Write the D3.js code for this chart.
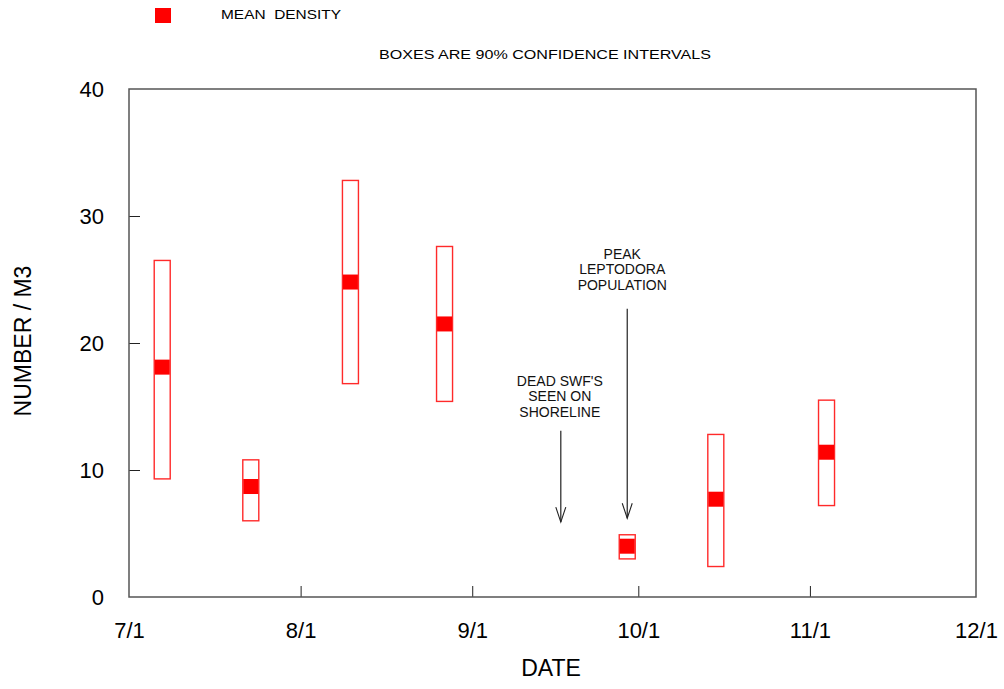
<!DOCTYPE html>
<html>
<head>
<meta charset="utf-8">
<script src="https://cdn.jsdelivr.net/npm/d3@7"></script>
<style>
  body { margin: 0; background: #fff; }
  svg { display: block; font-family: "Liberation Sans", Arial, sans-serif; }
</style>
</head>
<body>
<div id="chart"></div>
<script>
// sample dates and densities (number / m3)
const sampleDates = ["1990-07-07", "1990-07-23", "1990-08-10", "1990-08-27", "1990-09-29", "1990-10-15", "1990-11-04"];
const meanDensity = [18.1, 8.7, 24.8, 21.5, 4.0, 7.7, 11.4];
const ciLow = [9.3, 6.0, 16.8, 15.4, 3.0, 2.4, 7.2];
const ciHigh = [26.5, 10.8, 32.8, 27.6, 4.9, 12.8, 15.5];

const xTickDates = ["1990-07-01", "1990-08-01", "1990-09-01", "1990-10-01", "1990-11-01", "1990-12-01"];
const xTickLabels = ["7/1", "8/1", "9/1", "10/1", "11/1", "12/1"];
const yTicks = [0, 10, 20, 30, 40];

// annotation arrows: date, start value, tip value, label value, text lines
const noteDates = ["1990-09-17", "1990-09-29"];
const noteFrom = [13.1, 22.7];
const noteTo = [5.9, 6.2];
const noteLabelAt = [16.9, 26.9];
const noteLines = [["DEAD SWF'S", "SEEN ON", "SHORELINE"], ["PEAK", "LEPTODORA", "POPULATION"]];

const W = 1004, H = 689;
const margin = { top: 89, left: 129, right: 28, bottom: 92 };
const width = W - margin.left - margin.right;
const height = H - margin.top - margin.bottom;
const parse = d3.utcParse("%Y-%m-%d");

const svg = d3.select("#chart").append("svg").attr("width", W).attr("height", H);
const g = svg.append("g").attr("transform", `translate(${margin.left},${margin.top})`);

const x = d3.scaleUtc().domain([parse(xTickDates[0]), parse(xTickDates[xTickDates.length - 1])]).range([0, width]);
const y = d3.scaleLinear().domain([0, 40]).range([height, 0]);

// y axis (inward ticks)
const yAxis = g.append("g")
  .call(d3.axisLeft(y).tickValues(yTicks).tickSize(-11).tickPadding(25));
yAxis.select(".domain").remove();
yAxis.selectAll(".tick line").attr("stroke", "#222").attr("display", d => (d === 0 || d === 40) ? "none" : null);
yAxis.selectAll(".tick text").attr("font-size", 22).attr("fill", "#000")
  .attr("font-family", "Liberation Sans, Arial, sans-serif");

// x axis
const xAxis = g.append("g").attr("transform", `translate(0,${height})`)
  .call(d3.axisBottom(x).tickValues(xTickDates.map(parse)).tickSize(-11).tickPadding(25)
    .tickFormat((d, i) => xTickLabels[i]));
xAxis.select(".domain").remove();
xAxis.selectAll(".tick line").attr("stroke", "#222").attr("display", (d, i) => (i === 0 || i === xTickDates.length - 1) ? "none" : null);
xAxis.selectAll(".tick text").attr("font-size", 22).attr("fill", "#000")
  .attr("font-family", "Liberation Sans, Arial, sans-serif");

// frame
g.append("rect").attr("width", width).attr("height", height)
  .attr("fill", "none").attr("stroke", "#555").attr("stroke-width", 1.5);

// confidence boxes
const boxW = 16, markW = 15, markH = 15;
const rows = sampleDates.map((d, i) => ({ date: parse(d), mean: meanDensity[i], lo: ciLow[i], hi: ciHigh[i] }));

g.selectAll("rect.ci").data(rows).join("rect").attr("class", "ci")
  .attr("x", d => x(d.date) - boxW / 2)
  .attr("y", d => y(d.hi))
  .attr("width", boxW)
  .attr("height", d => y(d.lo) - y(d.hi))
  .attr("fill", "none").attr("stroke", "#ff2a2a").attr("stroke-width", 1.4);

g.selectAll("rect.mean").data(rows).join("rect").attr("class", "mean")
  .attr("x", d => x(d.date) - markW / 2)
  .attr("y", d => y(d.mean) - markH / 2)
  .attr("width", markW).attr("height", markH)
  .attr("fill", "#ff0000");

// annotations
noteDates.forEach((nd, i) => {
  const ax = x(parse(nd));
  const y0 = y(noteFrom[i]), y1 = y(noteTo[i]);
  g.append("line").attr("x1", ax).attr("x2", ax).attr("y1", y0).attr("y2", y1)
    .attr("stroke", "#222").attr("stroke-width", 1.2);
  g.append("path").attr("d", `M${ax - 5},${y1 - 15}L${ax},${y1}L${ax + 5},${y1 - 15}`)
    .attr("fill", "none").attr("stroke", "#222").attr("stroke-width", 1.1);
  noteLines[i].forEach((t, j) => {
    g.append("text").attr("x", ax - (i === 0 ? 1 : 5)).attr("y", y(noteLabelAt[i]) + j * 15.3)
      .attr("text-anchor", "middle").attr("dominant-baseline", "middle")
      .attr("font-size", 14).attr("fill", "#111")
      .text(t);
  });
});

// axis titles
svg.append("text").attr("x", 551).attr("y", 670)
  .attr("text-anchor", "middle").attr("dominant-baseline", "middle")
  .attr("font-size", 23).text("DATE");
svg.append("text").attr("transform", `translate(25,${margin.top + height / 2 - 2}) rotate(-90)`)
  .attr("text-anchor", "middle").attr("dominant-baseline", "middle")
  .attr("font-size", 23).text("NUMBER / M3");

// legend
svg.append("rect").attr("x", 155).attr("y", 8).attr("width", 16).attr("height", 15).attr("fill", "#ff0000");
svg.append("text").attr("x", 221).attr("y", 16).attr("dominant-baseline", "middle")
  .style("white-space", "pre")
  .attr("font-size", 13).attr("textLength", 120).attr("lengthAdjust", "spacingAndGlyphs")
  .text("MEAN  DENSITY");
svg.append("text").attr("x", 379).attr("y", 56).attr("dominant-baseline", "middle")
  .attr("font-size", 13).attr("textLength", 332).attr("lengthAdjust", "spacingAndGlyphs")
  .text("BOXES ARE 90% CONFIDENCE INTERVALS");
</script>
</body>
</html>
